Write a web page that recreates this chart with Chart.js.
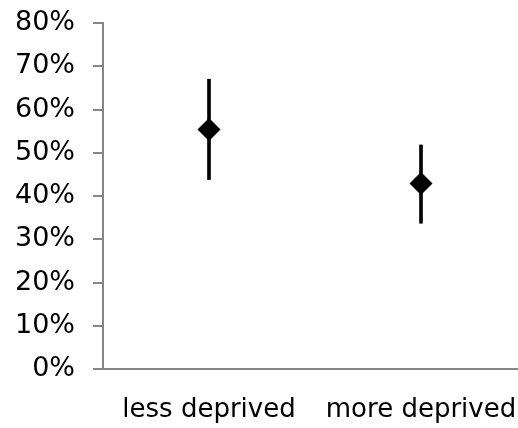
<!DOCTYPE html>
<html><head><meta charset="utf-8">
<script src="https://cdn.jsdelivr.net/npm/chart.js@4"></script>
<style>
html,body{margin:0;padding:0;background:#fff}
#clip{position:relative;width:518px;height:428px;overflow:hidden}
#c{position:absolute;left:0;top:0;display:block}
</style></head>
<body><div id="clip"><canvas id="c" width="527" height="428"></canvas></div>
<script>
const categories = ['less deprived', 'more deprived'];
const pointValues = [55.4, 42.9];
const lowerValues = [43.8, 33.7];
const upperValues = [67.0, 51.8];
const yTickValues = [0, 10, 20, 30, 40, 50, 60, 70, 80];

const axisGray = '#868686';
const fontFamily = '"DejaVu Sans", Verdana, sans-serif';

new Chart(document.getElementById('c'), {
  type: 'bar',
  data: {
    labels: categories,
    datasets: [
      {
        type: 'line',
        data: pointValues,
        showLine: false,
        pointStyle: 'rectRot',
        pointRadius: 11.5,
        pointHoverRadius: 11.5,
        backgroundColor: '#000',
        borderColor: '#000',
        pointBorderWidth: 0,
        order: 0
      },
      {
        type: 'bar',
        data: categories.map((c, i) => [lowerValues[i], upperValues[i]]),
        backgroundColor: '#000',
        borderWidth: 0,
        barThickness: 3,
        order: 1
      }
    ]
  },
  options: {
    responsive: false,
    animation: false,
    devicePixelRatio: 1,
    layout: { autoPadding: false, padding: { top: 23, right: 0, left: 0, bottom: 0 } },
    plugins: { legend: { display: false }, tooltip: { enabled: false } },
    scales: {
      x: {
        offset: true,
        grid: { display: true, drawOnChartArea: false, drawTicks: false },
        border: { display: true, color: axisGray, width: 2 },
        ticks: { color: '#000', font: { family: fontFamily, size: 26 }, padding: 26, maxRotation: 0, autoSkip: false },
        afterFit: s => { s.height = 59; s.paddingLeft = 0; s.paddingRight = 0; }
      },
      y: {
        min: 0,
        max: 80,
        afterBuildTicks: s => { s.ticks = yTickValues.map(v => ({ value: v })); },
        grid: { display: true, drawOnChartArea: false, drawTicks: true, tickLength: 10, color: axisGray, lineWidth: 2 },
        border: { display: true, color: axisGray, width: 2 },
        ticks: { color: '#000', font: { family: fontFamily, size: 27 }, padding: 18, callback: v => v + '%' },
        afterFit: s => { s.width = 103; s.paddingTop = 0; s.paddingBottom = 0; }
      }
    }
  }
});
</script>
</body></html>
